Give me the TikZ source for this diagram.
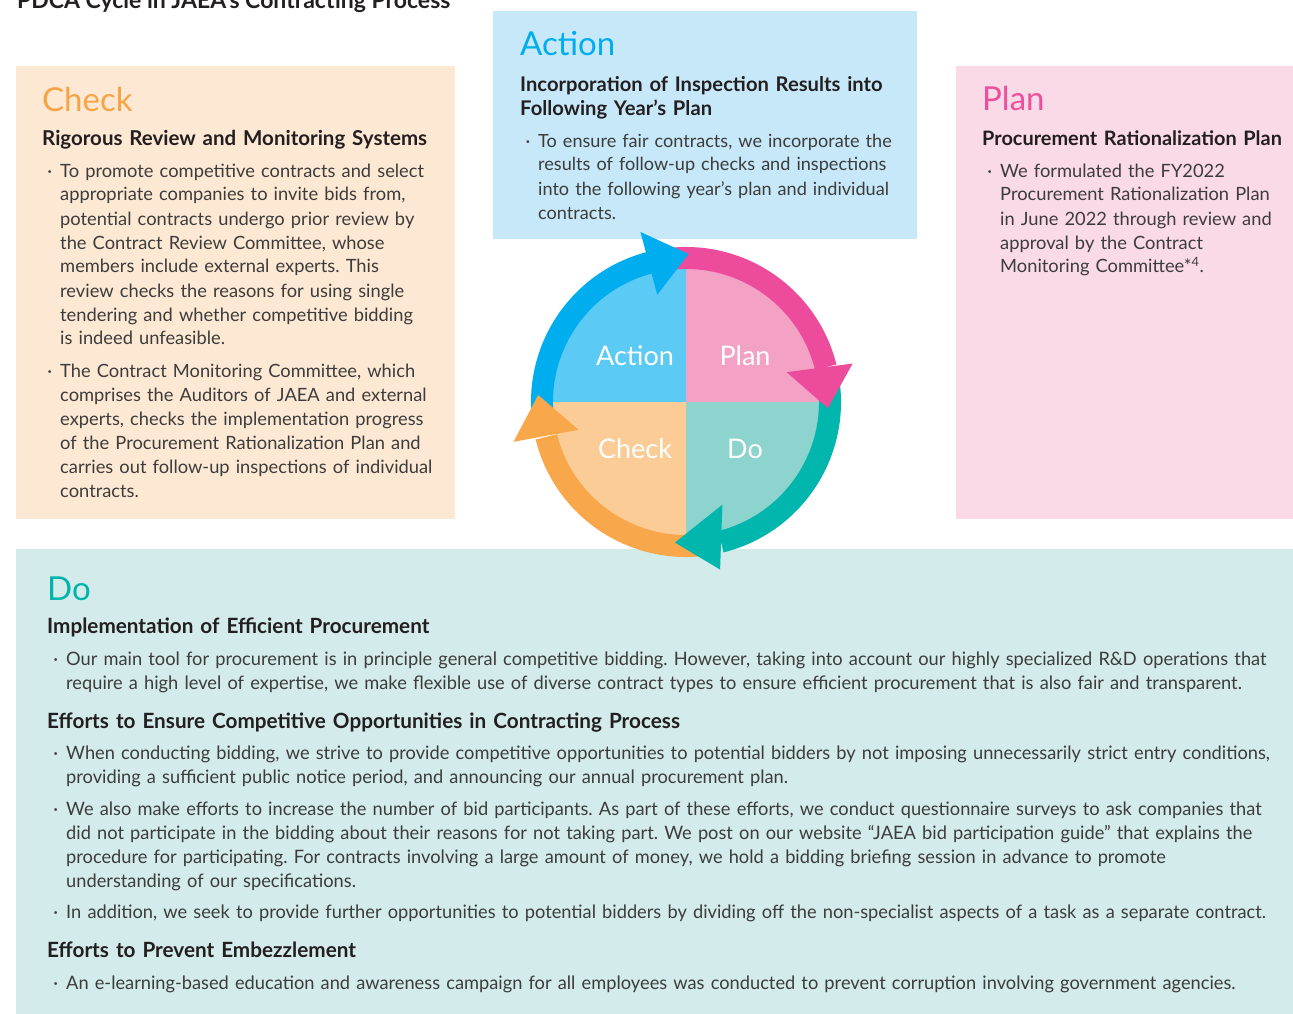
\documentclass[tikz,border=0pt]{standalone}
\usepackage{fontspec}
\setmainfont{Lato}
\newfontfamily\dofont[FakeStretch=0.986]{Lato}
\definecolor{checkbg}{HTML}{FDE9D3}
\definecolor{actionbg}{HTML}{C6E8F8}
\definecolor{planbg}{HTML}{F9DAE6}
\definecolor{dobg}{HTML}{D3EBEB}
\definecolor{checkc}{HTML}{F7A446}
\definecolor{actionc}{HTML}{00AEEF}
\definecolor{planc}{HTML}{EC4F9B}
\definecolor{doc}{HTML}{00B4AA}
\definecolor{pieA}{HTML}{5BCBF5}
\definecolor{pieP}{HTML}{F4A1C6}
\definecolor{pieC}{HTML}{FCCC97}
\definecolor{pieD}{HTML}{8DD3CE}
\definecolor{arrA}{HTML}{00AEEF}
\definecolor{arrP}{HTML}{EC4C9B}
\definecolor{arrD}{HTML}{00B6AD}
\definecolor{arrC}{HTML}{F8A84A}
\definecolor{bodytext}{HTML}{3C3C3C}
\definecolor{headtext}{HTML}{231F20}
\newcommand{\bul}{\llap{\textperiodcentered\hspace{8pt}}}
\frenchspacing
\begin{document}
\begin{tikzpicture}[x=1pt,y=1pt,
  panel/.style={anchor=north west, inner sep=0, outer sep=0, draw=none},
  bigtitle/.style={anchor=base west, inner sep=0, font=\fontsize{33}{36}\selectfont},
  subtitle/.style={anchor=base west, inner sep=0, align=left, text=headtext, font=\fontsize{20.5}{24}\selectfont\bfseries},
  bodypar/.style={anchor=base west, inner sep=0, align=left, text=bodytext, font=\fontsize{18.3}{24}\selectfont\frenchspacing},
  dosub/.style={anchor=base west, inner sep=0, align=left, text=headtext, text width=1220, font=\fontsize{21}{24}\dofont\selectfont\bfseries},
  dopar/.style={anchor=base west, inner sep=0, align=left, text=bodytext, text width=1222, font=\fontsize{18.5}{24}\dofont\selectfont\frenchspacing},
  pielabel/.style={text=white, inner sep=0, font=\fontsize{27}{30}\selectfont}
]
\useasboundingbox (0,0) rectangle (1293,-1014);
\fill[white] (0,0) rectangle (1293,-1014);

% header
\node[anchor=base west, inner sep=0, text=headtext, font=\fontsize{23}{24}\selectfont\bfseries] (hdr) at (17,-9) {PDCA Cycle in JAEA’s Contracting Process};

% panels
\node[panel, fill=checkbg, minimum width=439, minimum height=453] (checkbox) at (16,-66) {};
\node[panel, fill=actionbg, minimum width=424, minimum height=228] (actionbox) at (493,-11) {};
\node[panel, fill=planbg, minimum width=337, minimum height=453] (planbox) at (956,-66) {};
\node[panel, fill=dobg, minimum width=1277, minimum height=465] (dobox) at (16,-549) {};

% Check text
\node[bigtitle, text=checkc] (checkt) at (42,-112) {Check};
\node[subtitle, text width=405] (checks) at (42,-146) {Rigorous Review and Monitoring Systems};
\node[bodypar, text width=390] (checkp1) at (60,-177) {\bul To promote competitive contracts and select\\
appropriate companies to invite bids from,\\
potential contracts undergo prior review by\\
the Contract Review Committee, whose\\
members include external experts. This\\
review checks the reasons for using single\\
tendering and whether competitive bidding\\
is indeed unfeasible.};
\node[bodypar, text width=390] (checkp2) at (60,-377) {\bul The Contract Monitoring Committee, which\\
comprises the Auditors of JAEA and external\\
experts, checks the implementation progress\\
of the Procurement Rationalization Plan and\\
carries out follow-up inspections of individual\\
contracts.};

% Action text
\node[bigtitle, text=actionc] (actiont) at (520,-56) {Action};
\node[subtitle, text width=390, font=\fontsize{20.2}{24}\selectfont\bfseries] (actions) at (520,-92) {Incorporation of Inspection Results into\\Following Year’s Plan};
\node[bodypar, text width=372, font=\fontsize{18.1}{24}\selectfont\frenchspacing] (actionp) at (538,-147) {\bul To ensure fair contracts, we incorporate the\\
results of follow-up checks and inspections\\
into the following year’s plan and individual\\
contracts.};

% Plan text
\node[bigtitle, text=planc] (plant) at (982,-111) {Plan};
\node[subtitle, text width=308, font=\fontsize{19.9}{24}\selectfont\bfseries] (plans) at (982,-146) {Procurement Rationalization Plan};
\node[bodypar, text width=288] (planp) at (1000,-177) {\bul We formulated the FY2022\\
Procurement Rationalization Plan\\
in June 2022 through review and\\
approval by the Contract\\
Monitoring Committee*\textsuperscript{4}.};

% Do text
\node[bigtitle, text=doc] (dot) at (47,-600) {Do};
\node[dosub] (dos1) at (47,-633) {Implementation of Efficient Procurement};
\node[dopar] (dop1) at (66,-665) {\bul Our main tool for procurement is in principle general competitive bidding. However, taking into account our highly specialized R\&D operations that\\
require a high level of expertise, we make flexible use of diverse contract types to ensure efficient procurement that is also fair and transparent.};
\node[dosub] (dos2) at (47,-728) {Efforts to Ensure Competitive Opportunities in Contracting Process};
\node[dopar] (dop2) at (66,-759) {\bul When conducting bidding, we strive to provide competitive opportunities to potential bidders by not imposing unnecessarily strict entry conditions,\\
providing a sufficient public notice period, and announcing our annual procurement plan.};
\node[dopar] (dop3) at (66,-815) {\bul We also make efforts to increase the number of bid participants. As part of these efforts, we conduct questionnaire surveys to ask companies that\\
did not participate in the bidding about their reasons for not taking part. We post on our website “JAEA bid participation guide” that explains the\\
procedure for participating. For contracts involving a large amount of money, we hold a bidding briefing session in advance to promote\\
understanding of our specifications.};
\node[dopar] (dop4) at (66,-918) {\bul In addition, we seek to provide further opportunities to potential bidders by dividing off the non-specialist aspects of a task as a separate contract.};
\node[dosub] (dos3) at (47,-957) {Efforts to Prevent Embezzlement};
\node[dopar] (dop5) at (66,-989) {\bul An e-learning-based education and awareness campaign for all employees was conducted to prevent corruption involving government agencies.};

% PDCA circle
\begin{scope}[shift={(686,-402)}]
  \fill[pieA] (0,0) -- (90:134) arc[start angle=90, end angle=180, radius=134] -- cycle;
  \fill[pieP] (0,0) -- (0:134) arc[start angle=0, end angle=90, radius=134] -- cycle;
  \fill[pieD] (0,0) -- (-90:134) arc[start angle=-90, end angle=0, radius=134] -- cycle;
  \fill[pieC] (0,0) -- (180:134) arc[start angle=180, end angle=270, radius=134] -- cycle;
  % ring arcs
  \fill[arrA] (190:155) arc[start angle=190, end angle=104, radius=155] -- (104:133) arc[start angle=104, end angle=190, radius=133] -- cycle;
  \fill[arrP] (98:155) arc[start angle=98, end angle=14, radius=155] -- (14:133) arc[start angle=14, end angle=98, radius=133] -- cycle;
  \fill[arrD] (8:155) arc[start angle=8, end angle=-76, radius=155] -- (-76:133) arc[start angle=-76, end angle=8, radius=133] -- cycle;
  \fill[arrC] (-82:155) arc[start angle=-82, end angle=-166, radius=155] -- (-166:133) arc[start angle=-166, end angle=-82, radius=133] -- cycle;
  % arrow heads
  \fill[arrA] (105:176) -- (89:148) -- (105:111) -- cycle;
  \fill[arrP] (13:171) -- (-2.5:142) -- (16.5:105) -- cycle;
  \fill[arrD] (-78.5:171) -- (-94.5:141) -- (-70.5:109) -- cycle;
  \fill[arrC] (193:177) -- (177.3:148) -- (194.5:111) -- cycle;
\end{scope}
\node[pielabel] (lA) at (635,-356) {Action};
\node[pielabel] (lP) at (745,-356) {Plan};
\node[pielabel] (lC) at (635,-449) {Check};
\node[pielabel] (lD) at (745,-449) {Do};
\end{tikzpicture}
\end{document}
